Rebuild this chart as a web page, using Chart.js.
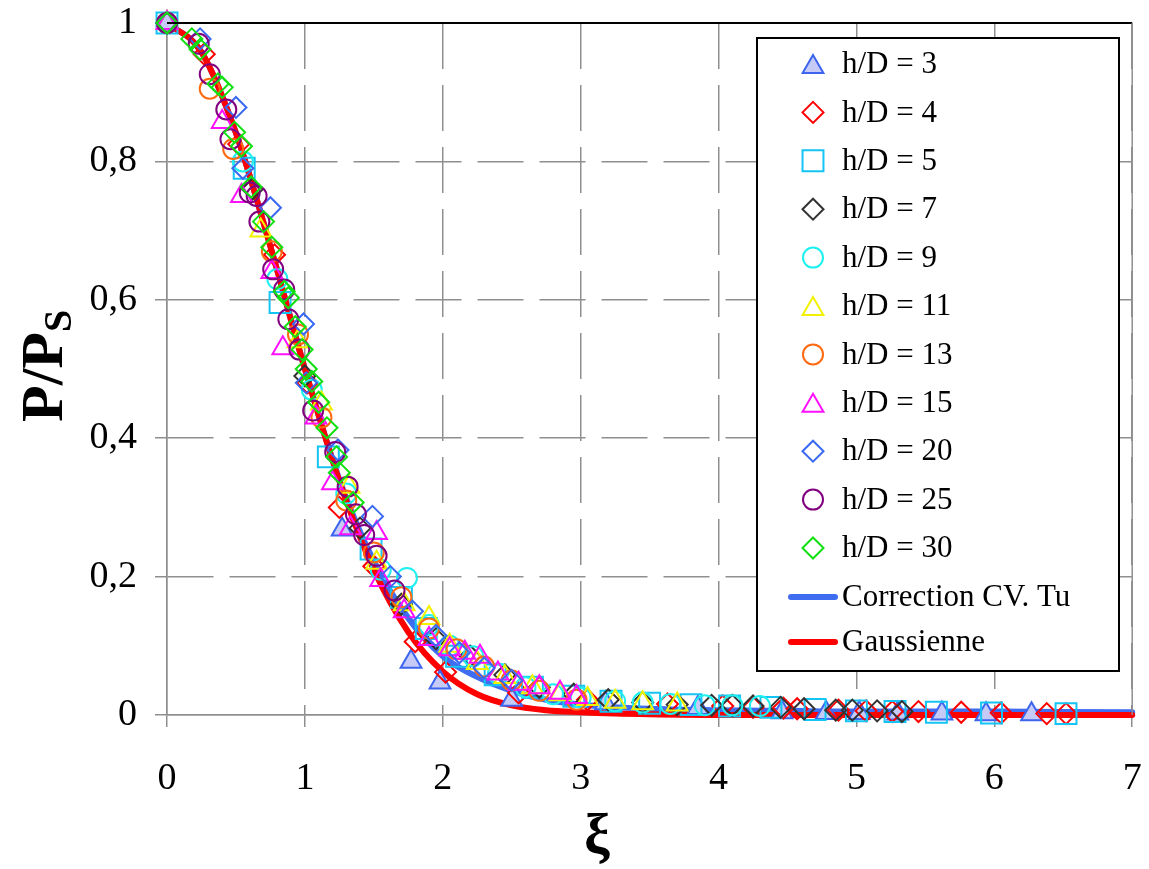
<!DOCTYPE html>
<html>
<head>
<meta charset="utf-8">
<script src="https://cdn.jsdelivr.net/npm/chart.js@4.4.1/dist/chart.umd.min.js"></script>
<style>
  html, body { margin: 0; padding: 0; background: #fff; }
  canvas { display: block; }
</style>
</head>
<body>
<canvas id="chart" width="1149" height="869"></canvas>
<script>
// values (xi, P/Ps) for each h/D
const xi3 = [0, 1.27, 1.77, 1.98, 2.50, 3.18, 3.85, 4.46, 4.78, 5.02, 5.30, 5.62, 5.94, 6.27];
const p3  = [1, 0.268, 0.077, 0.047, 0.022, 0.017, 0.010, 0.004, 0.003, 0.003, 0.002, 0.002, 0.001, 0.001];

const xi4 = [0, 0.27, 0.52, 0.78, 1.02, 1.25, 1.50, 1.80, 2.02, 2.55, 3.05, 3.63, 4.03, 4.25, 4.47, 4.57, 4.87, 5.07, 5.26, 5.45, 5.76, 6.05, 6.38, 6.52];
const p4  = [1, 0.955, 0.825, 0.665, 0.48, 0.30, 0.215, 0.106, 0.062, 0.032, 0.022, 0.016, 0.013, 0.011, 0.010, 0.009, 0.007, 0.006, 0.005, 0.005, 0.004, 0.003, 0.002, 0.002];

const xi5 = [0, 0.56, 0.82, 1.17, 1.48, 1.70, 1.88, 2.10, 2.38, 2.65, 2.95, 3.22, 3.50, 3.80, 4.08, 4.38, 4.70, 5.00, 5.28, 5.58, 5.98, 6.52];
const p5  = [1, 0.79, 0.596, 0.373, 0.24, 0.17, 0.125, 0.085, 0.058, 0.04, 0.027, 0.02, 0.017, 0.015, 0.013, 0.011, 0.008, 0.006, 0.005, 0.004, 0.003, 0.002];

const xi7 = [0, 0.62, 1.00, 1.40, 1.70, 1.95, 2.20, 2.45, 2.70, 2.95, 3.20, 3.45, 3.70, 3.95, 4.10, 4.25, 4.45, 4.62, 4.85, 4.97, 5.15, 5.33];
const p7  = [1, 0.76, 0.49, 0.27, 0.16, 0.11, 0.085, 0.058, 0.04, 0.03, 0.022, 0.018, 0.015, 0.014, 0.014, 0.013, 0.011, 0.009, 0.007, 0.007, 0.006, 0.005];

const xi9 = [0, 0.55, 0.80, 1.05, 1.30, 1.55, 1.74, 1.90, 2.05, 2.22, 2.40, 2.60, 2.80, 3.00, 3.25, 3.45, 3.65, 3.90, 4.10, 4.30];
const p9  = [1, 0.80, 0.63, 0.47, 0.32, 0.21, 0.198, 0.13, 0.10, 0.085, 0.06, 0.04, 0.03, 0.025, 0.02, 0.018, 0.016, 0.014, 0.014, 0.013];

const xi11 = [0, 0.68, 0.95, 1.12, 1.32, 1.52, 1.72, 1.90, 2.05, 2.25, 2.45, 2.65, 2.85, 3.05, 3.25, 3.45, 3.70];
const p11  = [1, 0.70, 0.54, 0.45, 0.33, 0.22, 0.16, 0.14, 0.10, 0.075, 0.055, 0.04, 0.03, 0.023, 0.019, 0.017, 0.015];

const xi13 = [0, 0.31, 0.48, 0.76, 0.95, 1.12, 1.30, 1.50, 1.70, 1.90, 2.10, 2.30, 2.50, 2.70, 2.97];
const p13  = [1, 0.905, 0.818, 0.67, 0.55, 0.43, 0.31, 0.235, 0.17, 0.125, 0.095, 0.07, 0.05, 0.035, 0.022];

const xi15 = [0, 0.40, 0.54, 0.76, 0.84, 1.08, 1.20, 1.33, 1.52, 1.55, 1.72, 1.90, 2.05, 2.16, 2.27, 2.40, 2.55, 2.70, 2.85, 2.97];
const p15  = [1, 0.857, 0.75, 0.64, 0.53, 0.43, 0.335, 0.27, 0.263, 0.195, 0.15, 0.11, 0.095, 0.09, 0.084, 0.06, 0.045, 0.04, 0.032, 0.026];

const xi20 = [0, 0.24, 0.50, 0.55, 0.75, 0.99, 1.01, 1.24, 1.49, 1.62, 1.78, 1.95, 2.12, 2.30, 2.50];
const p20  = [1, 0.977, 0.878, 0.79, 0.733, 0.565, 0.48, 0.383, 0.287, 0.20, 0.15, 0.115, 0.09, 0.068, 0.05];

const xi25 = [0, 0.23, 0.31, 0.43, 0.46, 0.60, 0.65, 0.67, 0.77, 0.85, 0.88, 0.96, 1.06, 1.22, 1.31, 1.37, 1.43, 1.52, 1.65];
const p25  = [1, 0.97, 0.926, 0.875, 0.832, 0.755, 0.75, 0.713, 0.644, 0.615, 0.572, 0.528, 0.44, 0.38, 0.33, 0.29, 0.26, 0.23, 0.18];

const xi30 = [0, 0.18, 0.24, 0.37, 0.40, 0.49, 0.54, 0.61, 0.70, 0.76, 0.85, 0.88, 0.93, 0.98, 1.01, 1.05, 1.10, 1.16, 1.23, 1.25, 1.35];
const p30  = [1, 0.977, 0.962, 0.912, 0.907, 0.842, 0.822, 0.763, 0.713, 0.676, 0.612, 0.603, 0.561, 0.528, 0.50, 0.482, 0.452, 0.415, 0.373, 0.35, 0.307];

// the two model curves
const gaussXi = [0, 0.25, 0.5, 0.75, 1, 1.25, 1.5, 1.75, 2, 2.25, 2.5, 2.75, 3, 3.25, 3.5, 4, 5, 6, 7, 7.1];
const gaussP  = [1, 0.958, 0.841, 0.677, 0.5, 0.338, 0.21, 0.12, 0.063, 0.03, 0.014, 0.007, 0.004, 0.002, 0.001, 0, 0, 0, 0, 0];
const tuXi = [0, 0.25, 0.5, 0.75, 1, 1.25, 1.5, 1.75, 2, 2.25, 2.5, 2.75, 3, 3.5, 4, 4.5, 5, 6, 7, 7.1];
const tuP  = [1, 0.958, 0.841, 0.677, 0.5, 0.34, 0.222, 0.14, 0.085, 0.055, 0.035, 0.022, 0.015, 0.009, 0.007, 0.006, 0.005, 0.005, 0.004, 0.004];

const seriesLabels = ['h/D = 3', 'h/D = 4', 'h/D = 5', 'h/D = 7', 'h/D = 9', 'h/D = 11',
                      'h/D = 13', 'h/D = 15', 'h/D = 20', 'h/D = 25', 'h/D = 30'];
const seriesXi = [xi3, xi4, xi5, xi7, xi9, xi11, xi13, xi15, xi20, xi25, xi30];
const seriesP = [p3, p4, p5, p7, p9, p11, p13, p15, p20, p25, p30];
const lineLabels = ['Correction CV. Tu', 'Gaussienne'];

const SERIF = '"Liberation Serif", "Times New Roman", serif';

// marker look per series
const markers = [
  { shape: 'triangle', r: 12, color: '#3c64ee', fill: '#c5cbf6' },
  { shape: 'rectRot', r: 10.5, color: '#ff0000' },
  { shape: 'rect', r: 14.8, color: '#14c4f4' },
  { shape: 'rectRot', r: 10.5, color: '#333333' },
  { shape: 'circle', r: 10, color: '#1ef0f0' },
  { shape: 'triangle', r: 12, color: '#f2f200' },
  { shape: 'circle', r: 10, color: '#ff6a10' },
  { shape: 'triangle', r: 12, color: '#ff10ff' },
  { shape: 'rectRot', r: 10.5, color: '#3a6af2' },
  { shape: 'circle', r: 10, color: '#800080' },
  { shape: 'rectRot', r: 10.5, color: '#10e010' }
];
const lineColors = ['#3f6df2', '#ff0000'];

function pts(xs, ys) {
  return xs.map((x, i) => ({ x: x, y: ys[i] }));
}

const datasets = [];
datasets.push({
  label: lineLabels[1], data: pts(gaussXi, gaussP), showLine: true,
  borderColor: lineColors[1], borderWidth: 6, pointRadius: 0, clip: false,
  cubicInterpolationMode: 'monotone', borderCapStyle: 'round', order: 30
});
datasets.push({
  label: lineLabels[0], data: pts(tuXi, tuP), showLine: true,
  borderColor: lineColors[0], borderWidth: 6, pointRadius: 0, clip: false,
  cubicInterpolationMode: 'monotone', borderCapStyle: 'round', order: 31
});
seriesLabels.forEach((lab, i) => {
  const m = markers[i];
  datasets.push({
    label: lab,
    data: pts(seriesXi[i], seriesP[i]),
    showLine: false,
    pointStyle: m.shape,
    pointRadius: m.r,
    pointHoverRadius: m.r,
    pointBorderWidth: 2,
    pointBorderColor: m.color,
    pointBackgroundColor: m.fill || 'rgba(0,0,0,0)',
    clip: false,
    order: 20 - i
  });
});

function drawMarker(ctx, shape, r, x, y) {
  ctx.beginPath();
  if (shape === 'circle') {
    ctx.arc(x, y, r, 0, Math.PI * 2);
  } else if (shape === 'triangle') {
    ctx.moveTo(x, y - r);
    ctx.lineTo(x + r * 0.866, y + r * 0.5);
    ctx.lineTo(x - r * 0.866, y + r * 0.5);
    ctx.closePath();
  } else if (shape === 'rectRot') {
    ctx.moveTo(x - r, y);
    ctx.lineTo(x, y - r);
    ctx.lineTo(x + r, y);
    ctx.lineTo(x, y + r);
    ctx.closePath();
  } else {
    const h = r * Math.SQRT1_2;
    ctx.rect(x - h, y - h, 2 * h, 2 * h);
  }
}

// frame, axis titles and the boxed legend
const decor = {
  id: 'decor',
  afterDraw(chart) {
    const ctx = chart.ctx;
    const a = chart.chartArea;
    ctx.save();

    ctx.strokeStyle = '#000';
    ctx.lineWidth = 2;
    ctx.beginPath();
    ctx.moveTo(a.left, a.top);
    ctx.lineTo(a.right, a.top);
    ctx.stroke();
    ctx.strokeStyle = '#8f8f8f';
    ctx.lineWidth = 1.5;
    ctx.beginPath();
    ctx.moveTo(a.right, a.top);
    ctx.lineTo(a.right, a.bottom);
    ctx.stroke();

    // y title P/P_S
    ctx.fillStyle = '#000';
    ctx.save();
    ctx.translate(62, 422);
    ctx.rotate(-Math.PI / 2);
    ctx.textAlign = 'left';
    ctx.textBaseline = 'alphabetic';
    ctx.font = 'bold 60px ' + SERIF;
    ctx.fillText('P/P', 0, 0);
    const w = ctx.measureText('P/P').width;
    ctx.font = 'bold 40px ' + SERIF;
    ctx.fillText('S', w, 9);
    ctx.restore();

    // x title
    ctx.font = 'bold 58px ' + SERIF;
    ctx.textAlign = 'center';
    ctx.textBaseline = 'alphabetic';
    ctx.fillText('\u03BE', 597, 853);

    // legend
    const bx = 757, by = 38, bw = 362, bh = 633;
    ctx.fillStyle = '#fff';
    ctx.fillRect(bx, by, bw, bh);
    ctx.strokeStyle = '#000';
    ctx.lineWidth = 2;
    ctx.strokeRect(bx, by, bw, bh);
    ctx.font = '31px ' + SERIF;
    ctx.textAlign = 'left';
    ctx.textBaseline = 'middle';
    seriesLabels.forEach((lab, i) => {
      const y = 64 + i * 48.4;
      const m = markers[i];
      drawMarker(ctx, m.shape, m.r, 813, m.shape === 'triangle' ? y + 3 : y);
      if (m.fill) { ctx.fillStyle = m.fill; ctx.fill(); }
      ctx.strokeStyle = m.color;
      ctx.lineWidth = 2;
      ctx.stroke();
      ctx.fillStyle = '#000';
      ctx.fillText(lab, 842, y + 1);
    });
    lineLabels.forEach((lab, i) => {
      const y = 597 + i * 45;
      ctx.strokeStyle = lineColors[i];
      ctx.lineWidth = 6;
      ctx.lineCap = 'round';
      ctx.beginPath();
      ctx.moveTo(791, y);
      ctx.lineTo(835, y);
      ctx.stroke();
      ctx.fillStyle = '#000';
      ctx.fillText(lab, 842, y + 1);
    });
    ctx.restore();
  }
};

const gridDash = (c) => (c.tick && c.tick.value === 0) ? [] : [46, 16];

function fixBox(s, prop, size) {
  s[prop] = size;
  s.paddingLeft = 0;
  s.paddingRight = 0;
  s.paddingTop = 0;
  s.paddingBottom = 0;
}

new Chart(document.getElementById('chart'), {
  type: 'scatter',
  data: { datasets: datasets },
  options: {
    responsive: false,
    animation: false,
    layout: { padding: { top: 23, right: 11, left: 0, bottom: 0 } },
    plugins: {
      legend: { display: false },
      tooltip: { enabled: false }
    },
    scales: {
      x: {
        type: 'linear', min: 0, max: 7,
        afterFit(s) { fixBox(s, 'height', 154); },
        ticks: {
          stepSize: 1, color: '#000', padding: 29,
          font: { family: SERIF, size: 38 }
        },
        grid: { color: '#8f8f8f', lineWidth: 1.5, tickLength: 12 },
        border: { color: '#8f8f8f', width: 1.5, dash: gridDash }
      },
      y: {
        type: 'linear', min: 0, max: 1,
        afterFit(s) { fixBox(s, 'width', 167); },
        ticks: {
          stepSize: 0.2, color: '#000', padding: 18,
          font: { family: SERIF, size: 38 },
          callback: (v) => String(Math.round(v * 10) / 10).replace('.', ',')
        },
        grid: { color: '#8f8f8f', lineWidth: 1.5, tickLength: 12 },
        border: { color: '#8f8f8f', width: 1.5, dash: gridDash }
      }
    }
  },
  plugins: [decor]
});
</script>
</body>
</html>
